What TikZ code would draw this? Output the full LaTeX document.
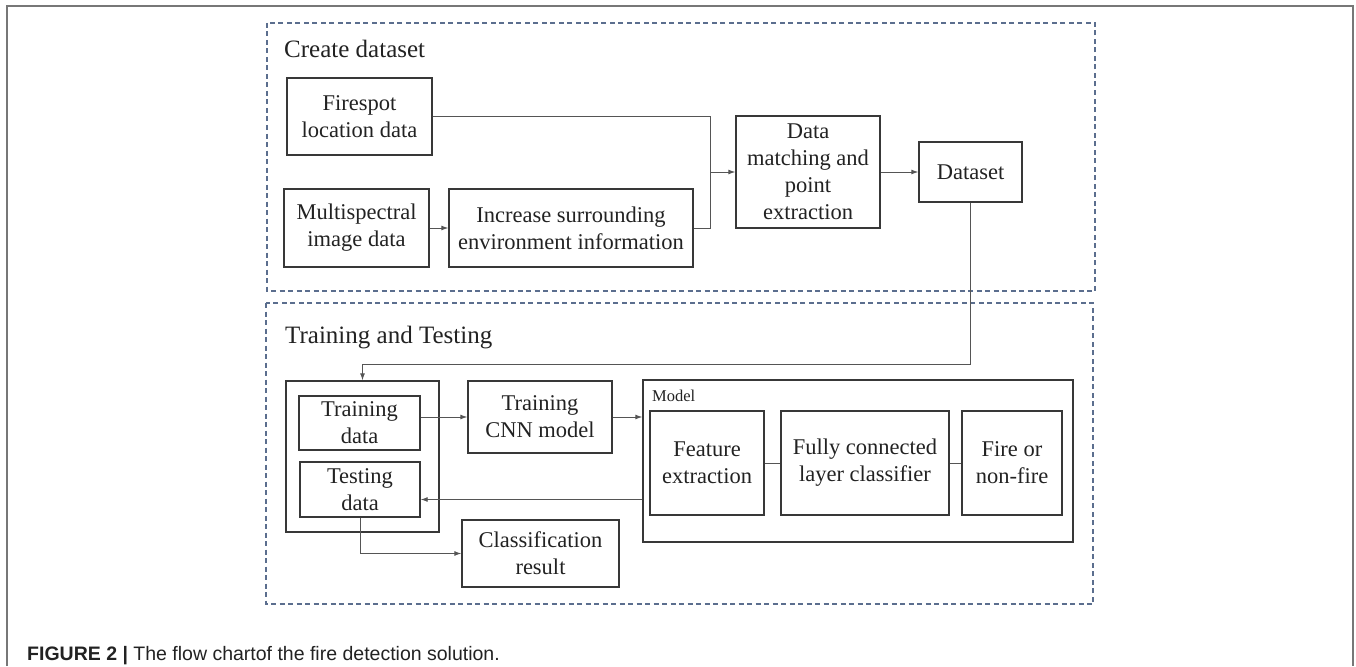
\documentclass[tikz,border=0pt]{standalone}
\usepackage{fontspec}
\setmainfont{Liberation Serif}
\newfontfamily\capfont{Liberation Sans}
\usepackage{tikz}
\usetikzlibrary{arrows.meta,positioning}
\definecolor{fdink}{HTML}{222222}
\definecolor{fdline}{HTML}{555555}
\definecolor{fddash}{HTML}{5B6E8E}
\definecolor{fdframe}{HTML}{777777}

\begin{document}
\begin{tikzpicture}[x=1pt,y=-1pt,
  bx/.style={draw=fdink!90,line width=1.4pt,align=center,text=fdink,inner sep=0pt,
    font=\fontsize{22.5}{27}\selectfont},
  grp/.style={draw=fddash,line width=1.3pt,dash pattern=on 5pt off 3.5pt},
  ln/.style={draw=fdline,line width=0.9pt},
  arr/.style={ln,-{Latex[length=7pt,width=5pt]}},
  ttl/.style={anchor=base west,inner sep=0pt,text=fdink,font=\fontsize{25}{30}\selectfont}]
  \useasboundingbox (0,0) rectangle (1356,666);
  % page frame
  \draw[fdframe,line width=1.4pt] (7,666) -- (7,6) -- (1353,6) -- (1353,666);
  % groups
  \draw[grp] (267,23) rectangle (1095,291);
  \draw[grp] (266,303) rectangle (1093,604);
  \node[ttl] (t1) at (284,58) {Create dataset};
  \node[ttl] (t2) at (285,343) {Training and Testing};
  % create dataset
  \node[bx,minimum width=145pt,minimum height=77pt] (fire) at (359.5,116.5) {Firespot\\location data};
  \node[bx,minimum width=145pt,minimum height=78pt] (multi) at (356.5,228) {Multispectral\\image data};
  \node[bx,minimum width=244pt,minimum height=78pt] (incr) at (571,228) {Increase surrounding\\environment information};
  \node[bx,minimum width=144pt,minimum height=112pt] (match) at (808,172) {Data\\matching and\\point\\extraction};
  \node[bx,minimum width=103pt,minimum height=60pt] (dset) at (970.5,172) {Dataset};
  \coordinate (jn) at (710,172);
  \draw[arr] (multi) -- (incr);
  \draw[ln] (fire.east) -| (jn);
  \draw[ln] (incr.east) -| (jn);
  \draw[arr] (jn) -- (match.west);
  \draw[arr] (match) -- (dset);
  % training and testing
  \node[bx,minimum width=153pt,minimum height=151pt] (dbox) at (362.5,456.5) {};
  \node[bx,minimum width=121pt,minimum height=54pt] (trd) at (359.5,423) {Training\\data};
  \node[bx,minimum width=120pt,minimum height=55pt] (ted) at (360,489.5) {Testing\\data};
  \node[bx,minimum width=144pt,minimum height=72pt] (cnn) at (540,417) {Training\\CNN model};
  \node[bx,minimum width=157pt,minimum height=67pt] (cls) at (540.5,553.5) {Classification\\result};
  \node[bx,minimum width=430pt,minimum height=162pt] (model) at (858,461) {};
  \node[anchor=base west,inner sep=0pt,text=fdink,font=\fontsize{16.5}{19}\selectfont] (mlbl) at (652,401) {Model};
  \node[bx,minimum width=114pt,minimum height=104pt] (feat) at (707,463) {Feature\\extraction};
  \node[bx,minimum width=168pt,minimum height=104pt] (fc) at (865,463) {Fully connected\\layer classifier};
  \node[bx,minimum width=100pt,minimum height=104pt] (fnf) at (1012,463) {Fire or\\non-fire};
  \coordinate (turn) at (362.5,364);
  \coordinate (tin) at ([yshift=-10pt]ted.east);
  \draw[arr] (dset.south) |- (turn) -- (dbox.north);
  \draw[arr] (trd.east |- cnn.west) -- (cnn.west);
  \draw[arr] (cnn.east) -- (cnn.east -| model.west);
  \draw[ln] (feat) -- (fc);
  \draw[ln] (fc) -- (fnf);
  \draw[arr] (model.west |- tin) -- (tin);
  \draw[arr] (ted.south) |- (cls.west);
  % caption
  \node[anchor=base west,inner sep=0pt,text=fdink,font=\capfont\fontsize{19.5}{23}\selectfont] (cap) at (27,660)
    {\textbf{FIGURE 2 |} The flow chartof the fire detection solution.};
\end{tikzpicture}
\end{document}
